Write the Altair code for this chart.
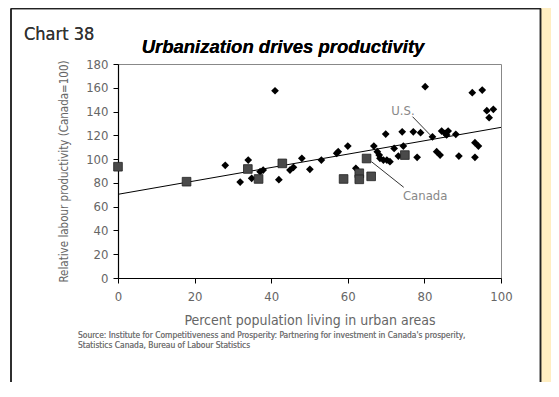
import altair as alt
import pandas as pd

# Provinces / Canada (grey squares)
sq_x = [0, 17.9, 33.9, 36.7, 42.9, 58.9, 63.0, 63.0, 66.1, 64.9, 74.9]
sq_y = [93.6, 81, 91.7, 83.3, 96.4, 83.3, 88.1, 83, 85.5, 100.5, 103.4]

# States / U.S. (black diamonds)
dm_x = [28.0, 34.0, 31.9, 34.9, 37.1, 37.9, 41.0, 42.0, 44.9, 45.8, 48.0, 50.1,
        53.1, 57.1, 57.5, 60.0, 62.1, 66.8, 67.7, 68.2, 68.4, 69.3, 70.2, 71.0,
        72.1, 73.2, 74.5, 69.9, 74.2, 77.1, 79.0, 82.1, 84.5, 85.4, 86.2, 85.8,
        88.2, 78.1, 83.2, 84.1, 89.0, 93.2, 93.2, 94.1, 80.2, 92.5, 95.1, 96.3,
        98.0, 96.9]
dm_y = [94.8, 99.2, 80.7, 83.8, 89.4, 90.8, 157.5, 82.7, 90.8, 93.1, 100.7, 91.4,
        99.2, 104.9, 106.2, 111, 92.3, 111, 106.2, 103.4, 100.7, 99.2, 99.2, 97.8,
        109, 102.6, 111, 121.1, 123, 123, 122.2, 118.8, 123.6, 121.7, 123.6, 120.3,
        120.9, 101.5, 106.2, 103.4, 102.6, 101.5, 113.8, 111, 160.9, 155.9, 158.1, 140.7,
        141.9, 134.8]

trend_x = [0, 100]
trend_y = [70.4, 126.7]

ann_text = ["U.S.", "Canada"]
ann_tx = [74.4, 80.2]
ann_ty = [140.5, 69]
lead_x1 = [76.9, 66.2]
lead_y1 = [135.7, 97.8]
lead_x2 = [81.5, 74.6]
lead_y2 = [120.4, 76.3]

x_ticks = [0, 20, 40, 60, 80, 100]
y_ticks = [0, 20, 40, 60, 80, 100, 120, 140, 160, 180]

FONT = "'DejaVu Sans Condensed', 'Liberation Sans Narrow', sans-serif"
GREY = "#666666"

sq = pd.DataFrame({"x": sq_x, "y": sq_y})
dm = pd.DataFrame({"x": dm_x, "y": dm_y})
tr = pd.DataFrame({"x": trend_x, "y": trend_y})
ann = pd.DataFrame({"t": ann_text, "x": ann_tx, "y": ann_ty})
lead = pd.DataFrame({"x": lead_x1, "y": lead_y1, "x2": lead_x2, "y2": lead_y2})

xs = alt.Scale(domain=[0, 100], nice=False)
ys = alt.Scale(domain=[0, 180], nice=False)

xaxis = alt.Axis(values=x_ticks, title="Percent population living in urban areas",
                 titleFontSize=14, titlePadding=10, labelPadding=7)
yaxis = alt.Axis(values=y_ticks, title="Relative labour productivity  (Canada=100)",
                 titleFontSize=11.5, titlePadding=16, labelPadding=5)

X = alt.X("x:Q", scale=xs, axis=xaxis)
Y = alt.Y("y:Q", scale=ys, axis=yaxis)

BOTTOM = 318  # bottom of the chart canvas in plot coordinates (214 + 104)

# decoration: yellow strip on the right and dark page frame
strip = alt.Chart(tr).mark_rect(fill="#FFEEC2").encode(
    x=alt.value(423), x2=alt.value(460), y=alt.value(-60), y2=alt.value(BOTTOM))
frame_l = alt.Chart(tr).mark_rule(color="#222222", strokeWidth=1.5).encode(
    x=alt.value(-107), y=alt.value(-55.5), y2=alt.value(BOTTOM))
frame_r = alt.Chart(tr).mark_rule(color="#222222", strokeWidth=1.5).encode(
    x=alt.value(422.5), y=alt.value(-55.5), y2=alt.value(BOTTOM))
frame_t = alt.Chart(tr).mark_rule(color="#222222", strokeWidth=1.5).encode(
    x=alt.value(-107), x2=alt.value(423), y=alt.value(-55.5))

trend = alt.Chart(tr).mark_line(color="black", strokeWidth=1).encode(x=X, y=Y)

leaders = alt.Chart(lead).mark_rule(color="#333333", strokeWidth=1).encode(
    x=X, y=Y, x2="x2:Q", y2="y2:Q")

diamonds = alt.Chart(dm).mark_point(shape="diamond", filled=True, color="black",
                                    size=60, opacity=1).encode(x=X, y=Y)

squares = alt.Chart(sq).mark_square(color="#4a4a4a", stroke="#222222", strokeWidth=0.8,
                                    size=75, opacity=1).encode(x=X, y=Y)

labels = alt.Chart(ann).mark_text(font=FONT, fontSize=13, color="#888888").encode(
    x=X, y=Y, text="t:N")

chart_no = alt.Chart(tr).mark_text(text="Chart  38", font=FONT, fontSize=18, color="#333333",
                                   align="left", baseline="alphabetic").encode(
    x=alt.value(-94), y=alt.value(-24))

title = alt.Chart(tr).mark_text(text="Urbanization drives productivity", font="'Liberation Sans', Arial, sans-serif",
                                fontSize=18.5, fontWeight="bold", fontStyle="italic", color="black",
                                align="center", baseline="alphabetic").encode(
    x=alt.value(165), y=alt.value(-11))

source = alt.Chart(tr).mark_text(
    text=["Source: Institute for Competitiveness and Prosperity: Partnering for investment in Canada's prosperity,",
          "Statistics Canada, Bureau of Labour Statistics"],
    font=FONT, fontSize=8.4, color="#777777", align="left", baseline="alphabetic", lineHeight=10).encode(
    x=alt.value(-40), y=alt.value(274))

chart = alt.layer(strip, frame_l, frame_r, frame_t, trend, leaders, diamonds, squares,
                  labels, chart_no, title, source).properties(
    width=383, height=214,
    autosize=alt.AutoSizeParams(type="none"),
    padding={"left": 110, "top": 56, "right": 50, "bottom": 104},
    background="white",
).configure_view(stroke="#888888", strokeWidth=1).configure_axis(
    grid=False, domainColor="black", tickColor="black", tickSize=5, domainWidth=1.2,
    labelFont=FONT, titleFont=FONT, labelColor=GREY, titleColor=GREY,
    labelFontSize=13, titleFontWeight="normal", zindex=1,
    labelOverlap=False, labelBound=False, labelFlush=False,
)

chart.save("out.html", embed_options={"renderer": "svg", "actions": False})
